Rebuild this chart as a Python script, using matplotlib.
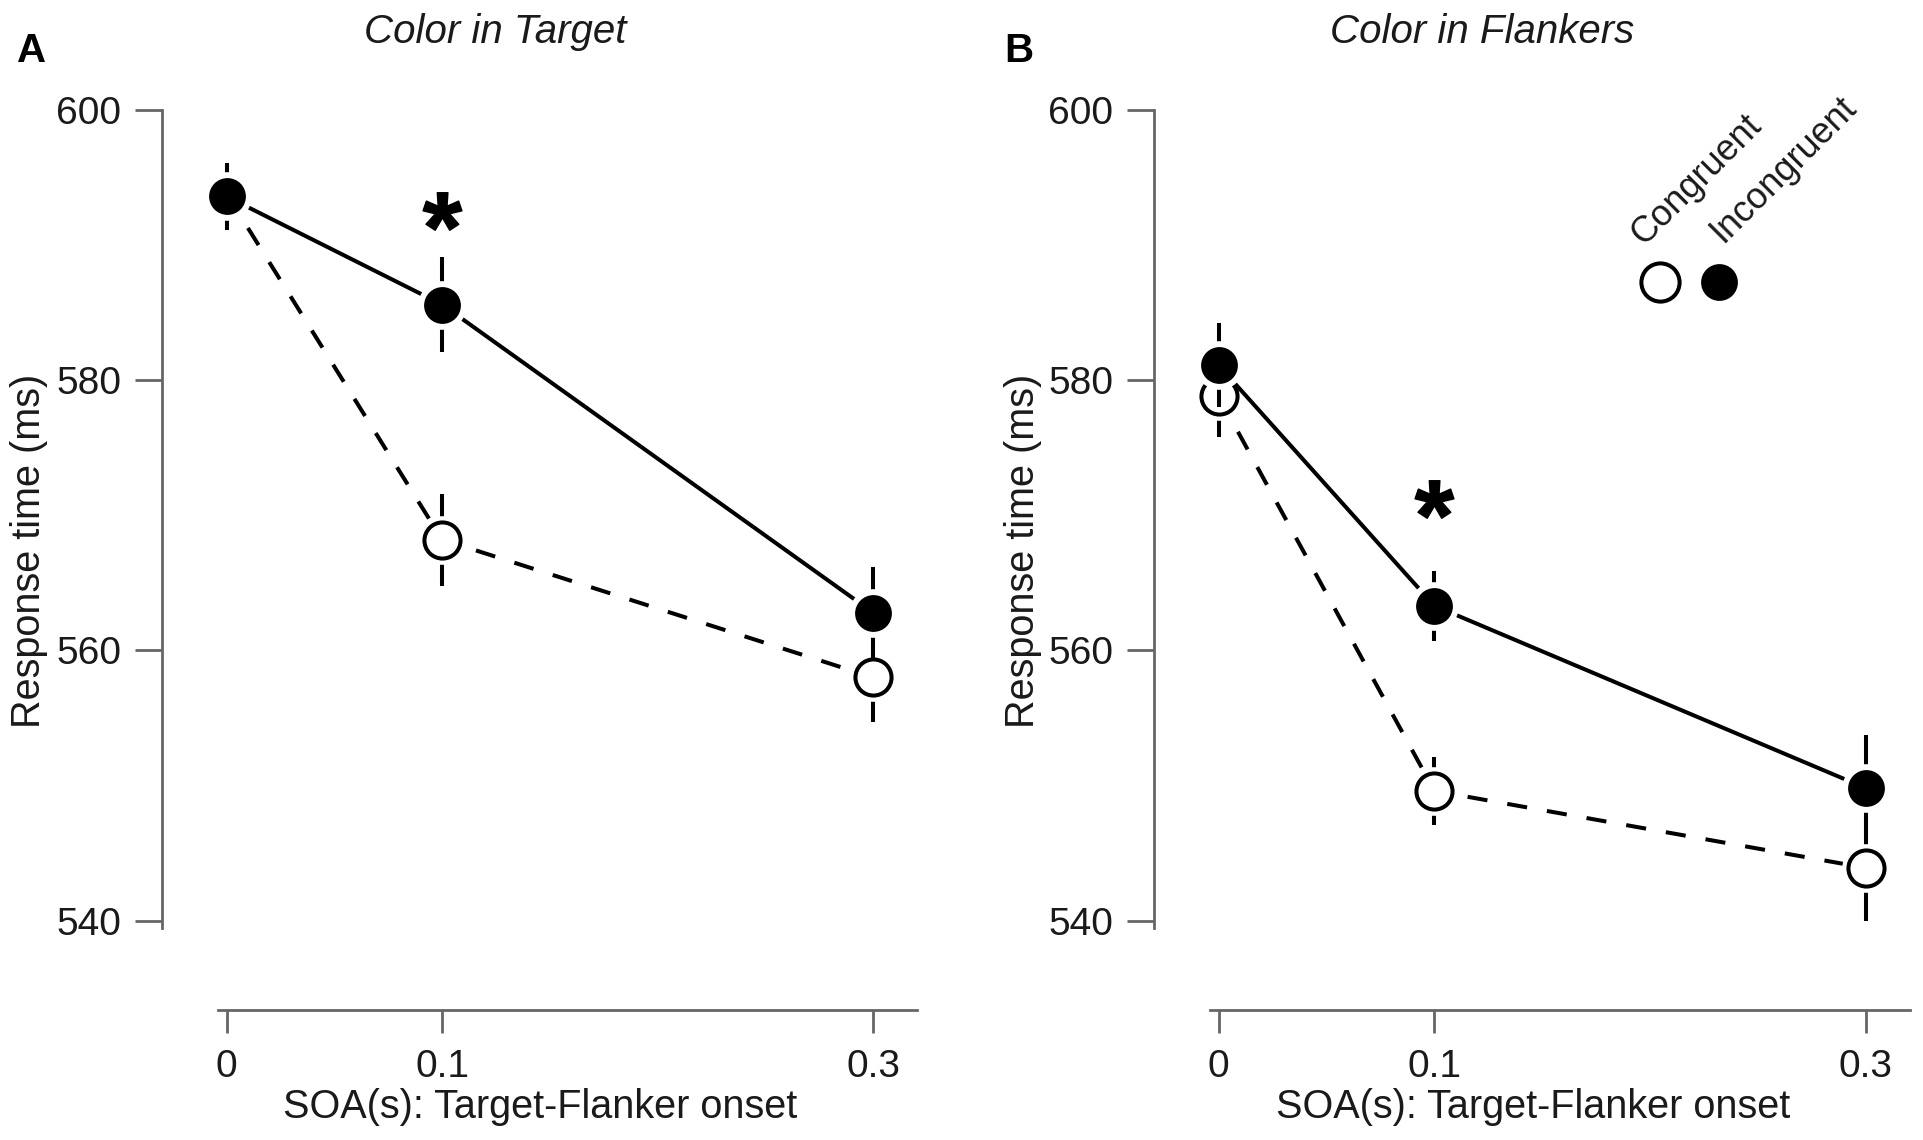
import matplotlib
matplotlib.use('Agg')
import matplotlib.pyplot as plt

plt.rcParams['font.family'] = ['Liberation Sans', 'DejaVu Sans']
plt.rcParams['mathtext.fontset'] = 'custom'
plt.rcParams['mathtext.bf'] = 'Liberation Sans:bold'

# SOA values (s) and tick labels
soa = [0, 0.1, 0.3]
soa_labels = ['0', '0.1', '0.3']
rt_ticks = [540, 560, 580, 600]

# Panel A: color in target
target_congruent = [593.8, 568.2, 558.0]
target_congruent_err = [2.3, 3.4, 3.3]
target_incongruent = [593.6, 585.6, 562.8]
target_incongruent_err = [2.5, 3.5, 3.4]

# Panel B: color in flankers
flanker_congruent = [578.8, 549.6, 543.9]
flanker_congruent_err = [3.0, 2.5, 3.9]
flanker_incongruent = [581.1, 563.3, 549.8]
flanker_incongruent_err = [3.1, 2.6, 3.9]

# significance stars (at SOA 0.1)
star_soa = 0.1
star_y = [592.5, 571.2]

W, H = 1924, 1140
PT = 0.72  # px -> pt at dpi 100
GREY = '#666666'
TXT = '#1a1a1a'
FS = 28
LFS = 28.5


def fx(px):
    return px / W


def fy(py):
    return 1 - py / H


def draw_series(ax, y, err, filled, z):
    if filled:
        ax.plot(soa, y, color='black', lw=2.9, zorder=z, clip_on=False)
    else:
        ax.plot(soa, y, color='black', lw=2.9, dashes=(5, 5), zorder=z, clip_on=False)
    ax.errorbar(soa, y, yerr=err, fmt='none', ecolor='black', elinewidth=2.9,
                capsize=0, zorder=z)
    # white halo around the markers
    ax.plot(soa, y, 'o', ms=34, color='white', mec='white', zorder=z + 1, clip_on=False)
    if filled:
        ax.plot(soa, y, 'o', ms=25, mfc='black', mec='black', mew=1.5,
                zorder=z + 2, clip_on=False)
    else:
        ax.plot(soa, y, 'o', ms=26, mfc='white', mec='black', mew=2.9,
                zorder=z + 2, clip_on=False)


def setup_axes(ax):
    ax.set_xlim(-0.004, 0.3204)
    ax.set_ylim(533.38, 600)
    for s in ['top', 'right']:
        ax.spines[s].set_visible(False)
    ax.spines['left'].set_position(('outward', 56 * PT))
    ax.spines['left'].set_bounds(539.45, 600)
    for s in ['left', 'bottom']:
        ax.spines[s].set_color(GREY)
        ax.spines[s].set_linewidth(2.0)
    ax.set_yticks(rt_ticks)
    ax.set_xticks(soa)
    ax.set_xticklabels(soa_labels)
    ax.tick_params(axis='y', direction='out', length=27 * PT, width=2.0, color=GREY,
                   pad=14 * PT, labelsize=FS, labelcolor=TXT)
    ax.tick_params(axis='x', direction='out', length=23 * PT, width=2.0, color=GREY,
                   pad=16 * PT, labelsize=FS, labelcolor=TXT)
    ax.patch.set_visible(False)


fig = plt.figure(figsize=(W / 100, H / 100), dpi=100)
axA = fig.add_axes([fx(218), fy(1010), 699 / W, 900 / H])
axB = fig.add_axes([fx(1210), fy(1010), 700 / W, 900 / H])

panels = [
    (axA, target_congruent, target_congruent_err, target_incongruent, target_incongruent_err),
    (axB, flanker_congruent, flanker_congruent_err, flanker_incongruent, flanker_incongruent_err),
]
for i, (ax, c, ce, inc, ince) in enumerate(panels):
    setup_axes(ax)
    draw_series(ax, c, ce, False, 2)
    draw_series(ax, inc, ince, True, 5)
    ax.plot([star_soa], [star_y[i]], marker=r'$\mathbf{*}$', ms=28, color='black',
            linestyle='none', zorder=9, clip_on=False)

# legend in panel B
axB.plot([0.643], [0.809], 'o', ms=27.5, mfc='white', mec='black', mew=2.9,
         transform=axB.transAxes, clip_on=False)
axB.plot([0.727], [0.809], 'o', ms=25, mfc='black', mec='black', mew=1.5,
         transform=axB.transAxes, clip_on=False)
axB.text(0.619, 0.848, 'Congruent', rotation=45, rotation_mode='anchor', ha='left',
         va='baseline', fontsize=26, color=TXT, transform=axB.transAxes)
axB.text(0.733, 0.852, 'Incongruent', rotation=45, rotation_mode='anchor', ha='left',
         va='baseline', fontsize=26, color=TXT, transform=axB.transAxes)

# titles, panel letters and axis labels
fig.text(fx(495), fy(43), 'Color in Target', style='italic', ha='center', va='baseline',
         fontsize=29, color=TXT)
fig.text(fx(1482), fy(43), 'Color in Flankers', style='italic', ha='center', va='baseline',
         fontsize=29, color=TXT)
fig.text(fx(17), fy(62), 'A', weight='bold', ha='left', va='baseline', fontsize=29)
fig.text(fx(1004), fy(62), 'B', weight='bold', ha='left', va='baseline', fontsize=29)
for x in [29, 1023]:
    fig.text(fx(x), fy(551), 'Response time (ms)', rotation=90, ha='center', va='center',
             fontsize=LFS, color=TXT)
for x in [540, 1533]:
    fig.text(fx(x), fy(1118), 'SOA(s): Target-Flanker onset', ha='center', va='baseline',
             fontsize=LFS, color=TXT)

fig.savefig('out.png', dpi=100)
